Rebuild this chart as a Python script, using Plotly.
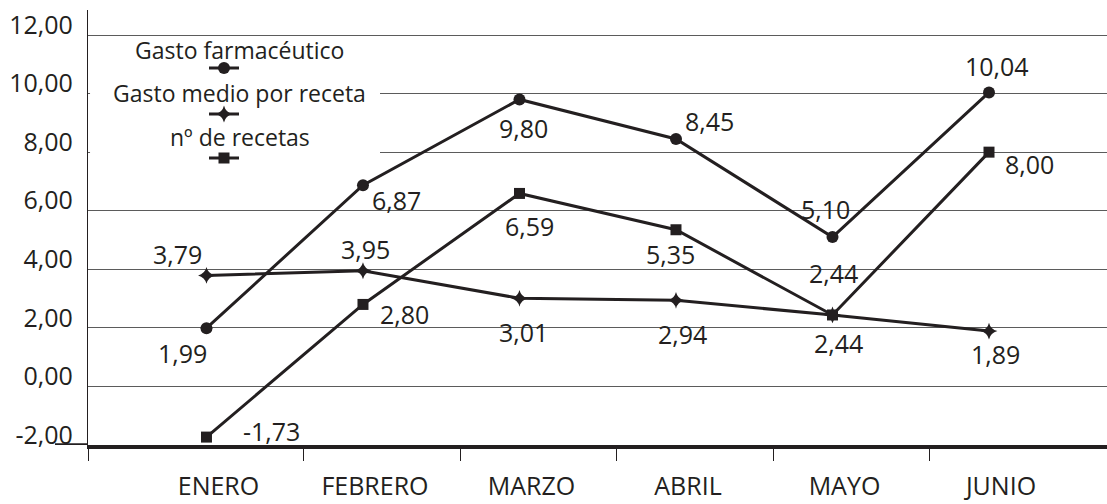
import plotly.graph_objects as go

# Meses y series (valores en %)
meses = ["ENERO", "FEBRERO", "MARZO", "ABRIL", "MAYO", "JUNIO"]
gasto_farmaceutico = [1.99, 6.87, 9.80, 8.45, 5.10, 10.04]
gasto_medio_receta = [3.79, 3.95, 3.01, 2.94, 2.44, 1.89]
num_recetas = [-1.73, 2.80, 6.59, 5.35, 2.44, 8.00]
y_ticks = [-2, 0, 2, 4, 6, 8, 10, 12]

# Desplazamiento (px) de cada etiqueta de valor respecto a su punto
off_farm = [(-24, 25), (34, 15), (4, 29), (34, -18), (-7, -28), (8, -26)]
off_medio = [(-29, -21), (3, -22), (4, 34), (7, 34), (6, 28), (6, 23)]
off_rec = [(65, -6), (42, 10), (10, 33), (-5, 24), (1, -42), (40, 12)]

INK = "#231f20"
GRID = "#5b5b5b"
FONT = "Open Sans"
WEIGHT = 400

W, H = 1107, 504
L, R, T, B = 88, 0, 10, 59
PW, PH = W - L - R, H - T - B

x_idx = list(range(len(meses)))
x_range = [-0.757, 5.754]
y_range = [-2, 12.854]


def fmt(v):
    return f"{v:.2f}".replace(".", ",")


def tfont(size):
    return dict(family=FONT, size=size, color=INK, weight=WEIGHT)


fig = go.Figure()

series = [
    ("Gasto farmacéutico", gasto_farmaceutico, "circle", 12, "legend", off_farm),
    ("Gasto medio por receta", gasto_medio_receta, "star-diamond", 12, "legend2", off_medio),
    ("nº de recetas", num_recetas, "square", 11, "legend3", off_rec),
]

annotations = []
for name, vals, sym, size, leg, offs in series:
    fig.add_trace(go.Scatter(
        x=x_idx, y=vals, name="", mode="lines+markers",
        line=dict(color=INK, width=3),
        marker=dict(symbol=sym, size=size, color=INK),
        legend=leg, showlegend=True, hoverinfo="skip",
    ))
    for xi, v, (dx, dy) in zip(x_idx, vals, offs):
        annotations.append(dict(
            x=xi, y=v, xref="x", yref="y", text=fmt(v), showarrow=False,
            xshift=dx, yshift=-dy, font=tfont(25),
        ))

# Textos de la leyenda, centrados sobre cada símbolo
legend_text = [("Gasto farmacéutico", 239, 50), ("Gasto medio por receta", 239, 93),
               ("nº de recetas", 240, 137)]
for txt, px, py in legend_text:
    annotations.append(dict(
        x=(px - L) / PW, y=(H - B - py) / PH, xref="paper", yref="paper",
        text=txt, showarrow=False, xanchor="center", yanchor="middle",
        font=tfont(23),
    ))

legend_sym_y = [68, 114, 158]
legend_cfg = {}
for key, py in zip(["legend", "legend2", "legend3"], legend_sym_y):
    legend_cfg[key] = dict(
        x=(204 - L) / PW, y=(H - B - py) / PH, xanchor="left", yanchor="middle",
        bgcolor="rgba(0,0,0,0)", borderwidth=0, font=dict(size=10),
        itemwidth=30,
    )

shapes = [
    # fondo blanco de la leyenda sobre la rejilla
    dict(type="rect", xref="paper", yref="y", x0=0.002, x1=(380 - L) / PW, y0=7.6, y1=11,
         fillcolor="white", line=dict(width=0), layer="above"),
    # prolongación de la línea base hacia la izquierda
    dict(type="line", xref="paper", yref="y", x0=(55 - L) / PW, x1=0, y0=-2, y1=-2,
         line=dict(color=INK, width=3.5)),
]

minor_ticks = [x_range[0]] + [i + 0.62 for i in range(len(meses) - 1)]

fig.update_layout(
    width=W, height=H,
    margin=dict(l=L, r=R, t=T, b=B, pad=0, autoexpand=False),
    paper_bgcolor="white", plot_bgcolor="white",
    font=dict(family=FONT, color=INK),
    annotations=annotations,
    shapes=shapes,
    **legend_cfg,
    xaxis=dict(
        range=x_range, tickmode="array", tickvals=x_idx, ticktext=meses,
        automargin=False,
        showgrid=False, zeroline=False, showline=True, linecolor=INK, linewidth=3.5,
        ticks="", ticklabelshift=12, ticklabelstandoff=16,
        tickfont=tfont(25),
        minor=dict(tickmode="array", tickvals=minor_ticks, ticks="outside",
                   ticklen=12, tickwidth=1, tickcolor=INK, showgrid=False),
    ),
    yaxis=dict(
        range=y_range, tickmode="array", tickvals=y_ticks,
        ticktext=[fmt(v) for v in y_ticks], automargin=False,
        showgrid=True, gridcolor=GRID, gridwidth=1, zeroline=False,
        showline=True, linecolor=INK, linewidth=1.2, ticks="",
        ticklabelstandoff=9, ticklabelshift=-10,
        tickfont=tfont(25),
    ),
)

fig.write_html("out.html")
